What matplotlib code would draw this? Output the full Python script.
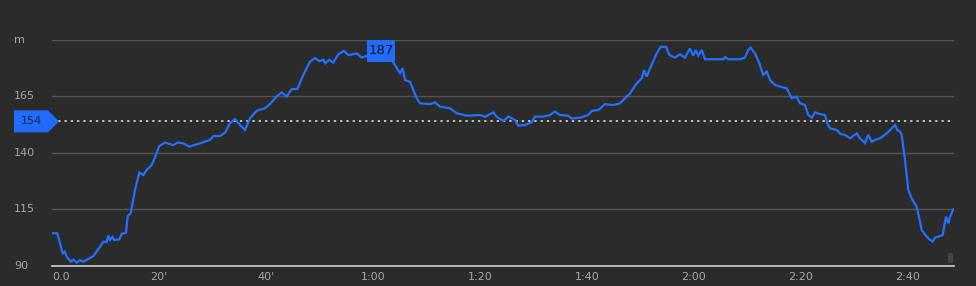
import matplotlib
matplotlib.use("Agg")
import matplotlib.pyplot as plt
from matplotlib.patches import Polygon, Rectangle
import numpy as np

# Elevation profile: time in minutes, altitude in metres
minutes = [
    0.0, 0.99, 1.50, 2.00, 2.40, 2.75, 3.10, 3.50, 4.00, 4.62, 5.20, 5.85, 6.49, 7.72,
    8.97, 9.59, 10.20, 10.52, 10.84, 11.30, 11.60, 12.58, 13.03, 13.83, 14.15, 14.71, 15.51,
    16.32, 17.07, 17.70, 18.64, 19.25, 20.06, 21.12, 22.67, 23.50, 24.54, 25.66,
    27.66, 29.53, 30.15, 31.40, 32.34, 33.27, 34.21, 35.14, 36.07, 37.01,
    38.26, 39.81, 40.75, 42.00, 42.93, 43.87, 44.80, 45.85, 46.97, 48.22,
    49.16, 50.00, 50.71, 51.03, 51.80, 52.58, 53.52, 54.58, 55.38, 56.95, 57.89, 58.82,
    60.37, 61.50, 62.80, 64.11, 65.05, 65.55, 65.98, 66.92, 67.53, 68.17,
    68.79, 70.65, 71.60, 72.52, 74.39, 75.65, 77.51, 80.00, 80.93, 82.49, 83.12,
    84.36, 85.29, 86.54, 87.16, 88.41, 89.66, 90.28, 91.83, 93.08, 94.02,
    94.95, 96.50, 97.14, 98.69, 100.24, 100.88, 102.11, 103.36, 104.92, 106.17,
    107.10, 108.04, 109.29, 110.22, 110.65, 111.16, 111.78, 113.03, 113.78, 114.77,
    115.38, 116.45, 117.38, 118.32, 119.25, 119.87, 120.32, 120.80, 121.44, 122.06,
    125.48, 125.79, 126.41, 128.60, 129.53, 130.15, 130.60, 131.40, 132.21, 132.95,
    133.59, 134.21, 135.14, 136.07, 137.33, 138.26, 139.20, 139.81, 140.75, 141.36,
    142.00, 142.62, 143.55, 144.49, 144.92, 145.42, 146.67, 147.40, 148.22, 149.16, 150.41,
    151.03, 151.96, 152.58, 153.21, 153.83, 154.77, 156.02, 156.95, 157.57, 158.00,
    158.50, 158.82, 159.44, 160.06, 160.69, 161.62, 162.11, 162.56, 163.49, 164.00, 164.61,
    165.10, 165.66, 166.48, 167.10, 167.53, 167.85, 168.47,
]
altitude = [
    104.5, 104.5, 100.0, 95.6, 96.4, 94.0, 93.2, 91.9, 92.8, 91.5, 92.6, 91.9, 92.7, 94.4,
    98.5, 100.8, 100.6, 103.5, 101.5, 102.8, 101.5, 101.8, 104.2, 104.7, 112.1, 113.3, 123.6,
    131.3, 130.3, 132.5, 134.7, 138.1, 143.1, 144.6, 143.5, 144.6, 144.3, 142.8,
    144.3, 145.8, 147.5, 147.5, 149.0, 153.2, 155.0, 152.4, 150.2, 155.4,
    158.7, 159.8, 161.7, 165.0, 166.8, 165.0, 168.3, 168.3, 174.5, 180.4,
    182.0, 180.6, 181.3, 179.7, 181.2, 180.0, 183.7, 185.2, 183.3, 184.1, 182.2, 182.9,
    184.5, 187.0, 183.0, 179.0, 175.3, 177.5, 172.3, 171.5, 167.9, 164.2,
    162.0, 161.6, 162.4, 160.5, 159.8, 157.6, 156.5, 156.8, 156.0, 158.0, 156.0,
    154.2, 156.1, 154.6, 152.1, 152.4, 153.6, 156.1, 156.1, 156.8, 158.3,
    156.8, 156.5, 155.3, 155.6, 156.8, 158.6, 159.0, 161.6, 161.2, 162.0,
    164.2, 166.4, 170.8, 173.0, 176.7, 173.8, 177.4, 184.1, 187.0, 187.0,
    183.4, 182.2, 183.7, 182.2, 186.3, 183.1, 185.6, 183.1, 185.6, 181.5,
    181.5, 182.4, 181.5, 181.5, 182.2, 185.6, 186.6, 184.1, 179.7, 174.5,
    176.0, 172.3, 170.1, 169.4, 168.6, 164.2, 164.9, 162.0, 161.2, 156.8,
    155.6, 158.0, 157.2, 156.8, 153.1, 150.9, 150.2, 148.4, 148.0, 146.5, 148.7,
    146.5, 144.4, 148.0, 145.0, 145.8, 146.5, 148.7, 150.9, 152.4, 150.2,
    149.5, 148.0, 136.9, 123.6, 119.9, 116.2, 111.1, 105.9, 103.0, 101.8, 100.8,
    102.6, 103.0, 103.7, 111.8, 108.9, 111.8, 115.1,
]

y_ticks = [90, 115, 140, 165]
y_unit = "m"
x_ticks = [0, 20, 40, 60, 80, 100, 120, 140, 160]
x_labels = ["0.0", "20'", "40'", "1:00", "1:20", "1:40", "2:00", "2:20", "2:40"]
avg_value = 154
peak_value = 187
peak_time = 61.5

# Colors
COL_BG = "#2b2b2b"
COL_GRID = "#555555"
COL_BASE = "#d0d0d0"
COL_LINE = "#2170ff"
COL_TEXT = "#a8a8a8"
COL_LABEL = "#1f6cff"

W, H = 976, 286
fig = plt.figure(figsize=(W / 100, H / 100), dpi=100, facecolor=COL_BG)


def fx(px):
    return px / W


def fy(py):
    return 1 - py / H


ax = fig.add_axes([fx(52), fy(266), fx(954) - fx(52), fy(40) - fy(266)])
ax.set_facecolor(COL_BG)
ax.set_xlim(0, (954 - 52) / 107 * 20)
ax.set_ylim(90, 190)
for s in ax.spines.values():
    s.set_visible(False)
ax.set_xticks([])
ax.set_yticks([])

# Grid lines
for v in y_ticks[1:] + [190]:
    ax.axhline(v, color=COL_GRID, lw=1.0, zorder=1)
ax.axhline(90, color=COL_BASE, lw=1.2, zorder=1, clip_on=False)

# Average dotted line
ax.axhline(avg_value, color="#e8e8e8", lw=1.1, ls=(0, (1.5, 2.6)), zorder=2)

# Profile
ax.plot(minutes, altitude, color=COL_LINE, lw=1.6, zorder=3,
        solid_joinstyle="miter")

to_fig = fig.transFigure.inverted()

# Y labels (left of the axes)
for v in y_ticks:
    yv = to_fig.transform(ax.transData.transform((0, v)))[1]
    fig.text(fx(14), yv, str(v), fontsize=8, color=COL_TEXT, va="center",
             ha="left")
fig.text(fx(14), fy(40), y_unit, fontsize=8, color=COL_TEXT, va="center",
         ha="left")

# X labels
for t, lab in zip(x_ticks, x_labels):
    ax.text(t, -0.05, lab, transform=ax.get_xaxis_transform(), fontsize=8,
            color=COL_TEXT, ha="left" if t == 0 else "center", va="center")

# Average marker on the left
yc = to_fig.transform(ax.transData.transform((0, avg_value)))[1]
hh = 11 / H
poly = Polygon([(fx(14), yc - hh), (fx(48), yc - hh), (fx(59), yc),
                (fx(48), yc + hh), (fx(14), yc + hh)], closed=True,
               transform=fig.transFigure, facecolor=COL_LABEL, edgecolor="none")
fig.add_artist(poly)
fig.text(fx(31), yc, str(avg_value), fontsize=8, color="#14213d",
         ha="center", va="center")

# Peak label
px, py = to_fig.transform(ax.transData.transform((peak_time, peak_value)))
py -= 4 / H
fig.add_artist(Rectangle((px - 14 / W, py - 11 / H), 28 / W, 22 / H,
                         transform=fig.transFigure, facecolor=COL_LABEL,
                         edgecolor="none", zorder=5))
fig.text(px, py, str(peak_value), fontsize=9.5, color="#111111",
         ha="center", va="center", zorder=6)

# Small handle at bottom right
fig.add_artist(Rectangle((fx(948), fy(263)), fx(5), 10 / H,
                         transform=fig.transFigure, facecolor="#444444",
                         edgecolor="none"))

fig.savefig("out.png", dpi=100, facecolor=COL_BG)
